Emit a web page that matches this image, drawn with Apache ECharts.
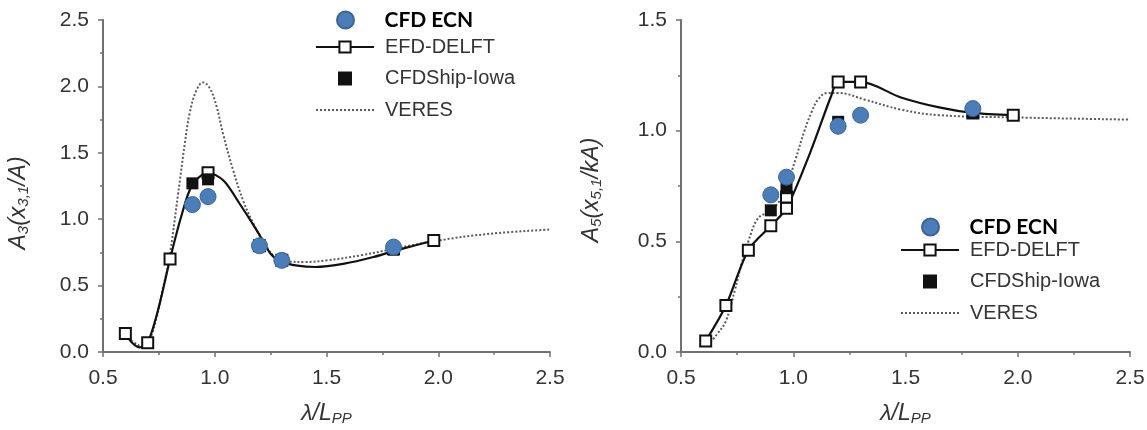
<!DOCTYPE html>
<html>
<head>
<meta charset="utf-8">
<script src="https://cdn.jsdelivr.net/npm/echarts@6/dist/echarts.min.js"></script>
<style>
  html, body { margin: 0; padding: 0; background: #fff; }
  #main { width: 1147px; height: 430px; }
</style>
</head>
<body>
<div id="main"></div>
<script>
// ---- heave (left) ----
var heaveEcn = [[0.9, 1.11], [0.97, 1.17], [1.2, 0.80], [1.3, 0.69], [1.8, 0.79]];
var heaveEfd = [[0.6, 0.14], [0.7, 0.07], [0.8, 0.70], [0.97, 1.35], [1.2, 0.80], [1.3, 0.69], [1.8, 0.78], [1.98, 0.84]];
var heaveEfdCurve = [[0.6, 0.14], [0.63, 0.07], [0.665, 0.035], [0.7, 0.07], [0.75, 0.34], [0.8, 0.70], [0.85, 1.02],
    [0.9, 1.26], [0.97, 1.35], [1.04, 1.29], [1.11, 1.12], [1.19, 0.91], [1.25, 0.74], [1.3, 0.68], [1.37, 0.65],
    [1.45, 0.64], [1.58, 0.665], [1.71, 0.715], [1.8, 0.76], [1.89, 0.80], [1.98, 0.84]];
var heaveIowa = [[0.9, 1.27], [0.97, 1.30], [1.8, 0.77]];
var heaveVeres = [[0.6, 0.13], [0.64, 0.07], [0.68, 0.04], [0.71, 0.10], [0.74, 0.26], [0.766, 0.465], [0.795, 0.69],
    [0.836, 1.19], [0.866, 1.57], [0.888, 1.80], [0.918, 1.97], [0.948, 2.03], [0.978, 1.985], [1.008, 1.85],
    [1.037, 1.645], [1.082, 1.37], [1.127, 1.14], [1.172, 0.97], [1.216, 0.84], [1.267, 0.72], [1.333, 0.68],
    [1.40, 0.678], [1.50, 0.69], [1.66, 0.73], [1.81, 0.78], [1.99, 0.837], [2.23, 0.89], [2.5, 0.922]];

// ---- pitch (right) ----
var pitchEcn = [[0.9, 0.71], [0.97, 0.79], [1.2, 1.02], [1.3, 1.07], [1.8, 1.10]];
var pitchEfd = [[0.61, 0.05], [0.7, 0.21], [0.8, 0.46], [0.9, 0.57], [0.97, 0.65], [0.97, 0.70], [1.2, 1.22], [1.3, 1.22], [1.8, 1.08], [1.98, 1.07]];
var pitchEfdCurve = [[0.61, 0.05], [0.7, 0.21], [0.8, 0.46], [0.9, 0.57], [0.97, 0.65], [1.075, 0.90], [1.17, 1.16],
    [1.2, 1.22], [1.3, 1.22], [1.48, 1.15], [1.65, 1.105], [1.8, 1.08], [1.98, 1.07]];
var pitchIowa = [[0.9, 0.64], [0.97, 0.74], [1.2, 1.04], [1.8, 1.08]];
var pitchVeres = [[0.62, 0.03], [0.66, 0.08], [0.7, 0.14], [0.74, 0.28], [0.77, 0.40], [0.8, 0.50], [0.84, 0.60],
    [0.88, 0.63], [0.93, 0.67], [0.97, 0.75], [1.01, 0.87], [1.05, 1.0], [1.08, 1.08], [1.11, 1.14], [1.15, 1.17],
    [1.2, 1.17], [1.32, 1.14], [1.48, 1.095], [1.65, 1.07], [1.98, 1.06], [2.5, 1.05]];

var xTicks = [0.5, 2.5, 0.5];   // min, max, interval
var heaveTicks = [0, 2.5, 0.5];
var pitchTicks = [0, 1.5, 0.5];

var FONT = "'Liberation Sans', Arial, sans-serif";
var axisGrey = '#707070';

var subRich = {
    m: { fontSize: 23, fontStyle: 'italic', fontFamily: FONT, color: '#333', lineHeight: 24, verticalAlign: 'middle' },
    s: { fontSize: 15, fontStyle: 'italic', fontFamily: FONT, color: '#333', lineHeight: 15, verticalAlign: 'bottom' }
};

function makeX(idx) {
    return {
        type: 'value', gridIndex: idx, min: xTicks[0], max: xTicks[1], interval: xTicks[2],
        name: '{m|λ/L}{s|PP}', nameLocation: 'middle', nameGap: 50,
        nameTextStyle: { rich: subRich },
        axisLine: { show: true, onZero: false, lineStyle: { color: axisGrey, width: 2 } },
        axisTick: { show: true, length: 5, lineStyle: { color: axisGrey, width: 1.5 } },
        minorTick: { show: true, splitNumber: 2, length: 3, lineStyle: { color: axisGrey, width: 1.5 } },
        splitLine: { show: false },
        axisLabel: { fontSize: 21, color: '#333', fontFamily: FONT, margin: 16,
            formatter: function (v) { return v.toFixed(1); } }
    };
}

function makeY(idx, ticks, name, gap, shift) {
    return {
        type: 'value', gridIndex: idx, min: ticks[0], max: ticks[1], interval: ticks[2],
        name: name, nameLocation: 'middle', nameGap: gap,
        nameTextStyle: { rich: subRich, padding: [0, shift, 0, 0] },
        axisLine: { show: true, onZero: false, lineStyle: { color: axisGrey, width: 2 } },
        axisTick: { show: true, length: 5, lineStyle: { color: axisGrey, width: 1.5 } },
        minorTick: { show: true, splitNumber: 2, length: 3, lineStyle: { color: axisGrey, width: 1.5 } },
        splitLine: { show: false },
        axisLabel: { fontSize: 21, color: '#333', fontFamily: FONT, margin: 14,
            formatter: function (v) { return v.toFixed(1); } }
    };
}

function makeSeries(idx, veres, efdCurve, efd, iowa, ecn) {
    return [
        {
            name: 'VERES', type: 'line', xAxisIndex: idx, yAxisIndex: idx, data: veres,
            smooth: 0.4, symbol: 'none', z: 1,
            lineStyle: { color: '#5a5a5a', width: 2, type: 'dotted' },
            itemStyle: { color: '#5a5a5a' }
        },
        {
            name: 'EFD-DELFT', type: 'line', xAxisIndex: idx, yAxisIndex: idx, data: efdCurve,
            smooth: 0.3, symbol: 'rect', showSymbol: false, z: 2,
            lineStyle: { color: '#111', width: 2.2 },
            itemStyle: { color: '#fff', borderColor: '#111', borderWidth: 2 }
        },
        {
            name: 'EFD-DELFT', type: 'scatter', xAxisIndex: idx, yAxisIndex: idx, data: efd,
            symbol: 'rect', symbolSize: 11, z: 3,
            itemStyle: { color: '#fff', borderColor: '#111', borderWidth: 2, opacity: 1 }
        },
        {
            name: 'CFDShip-Iowa', type: 'scatter', xAxisIndex: idx, yAxisIndex: idx, data: iowa,
            symbol: 'rect', symbolSize: 12, symbolKeepAspect: true, z: 4,
            itemStyle: { color: '#111', opacity: 1 }
        },
        {
            name: 'CFD ECN', type: 'scatter', xAxisIndex: idx, yAxisIndex: idx, data: ecn,
            symbol: 'circle', symbolSize: 16, z: 5,
            itemStyle: { color: '#4a7ebb', borderColor: '#3b6597', borderWidth: 1, opacity: 1 }
        }
    ];
}

function makeLegends(left, topA, topB) {
    return [
        {
            left: left + 21, top: topA, orient: 'vertical', padding: 0,
            itemWidth: 58, itemHeight: 17, selectedMode: false,
            data: ['CFD ECN'],
            textStyle: { fontSize: 21, fontWeight: 'bold', color: '#000', fontFamily: 'Lato, sans-serif',
                lineHeight: 24, padding: [0, 0, 0, 5] }
        },
        {
            left: left, top: topB, orient: 'vertical', padding: 0,
            itemWidth: 58, itemHeight: 14, itemGap: 7.5, selectedMode: false, symbolKeepAspect: true,
            data: ['EFD-DELFT', { name: 'CFDShip-Iowa', icon: 'path://M0,0H10V10H0Z' },
                { name: 'VERES', itemStyle: { opacity: 0 } }],
            textStyle: { fontSize: 20, color: '#333', fontFamily: FONT, lineHeight: 24, padding: [0, 0, 0, 6] }
        }
    ];
}

var chart = echarts.init(document.getElementById('main'), null, { renderer: 'canvas' });
var option = {
    animation: false,
    backgroundColor: '#fff',
    grid: [
        { left: 103, top: 20, width: 447, height: 332, containLabel: false, outerBoundsMode: 'none' },
        { left: 681, top: 20, width: 449, height: 332, containLabel: false, outerBoundsMode: 'none' }
    ],
    xAxis: [makeX(0), makeX(1)],
    yAxis: [
        makeY(0, heaveTicks, '{m|A}{s|3}{m|(x}{s|3,1}{m|/A)}', 72, 34),
        makeY(1, pitchTicks, '{m|A}{s|5}{m|(x}{s|5,1}{m|/kA)}', 77, 8)
    ],
    legend: makeLegends(315, 8, 35).concat(makeLegends(900, 215, 238)),
    series: makeSeries(0, heaveVeres, heaveEfdCurve, heaveEfd, heaveIowa, heaveEcn)
        .concat(makeSeries(1, pitchVeres, pitchEfdCurve, pitchEfd, pitchIowa, pitchEcn))
};
chart.setOption(option);
</script>
</body>
</html>
